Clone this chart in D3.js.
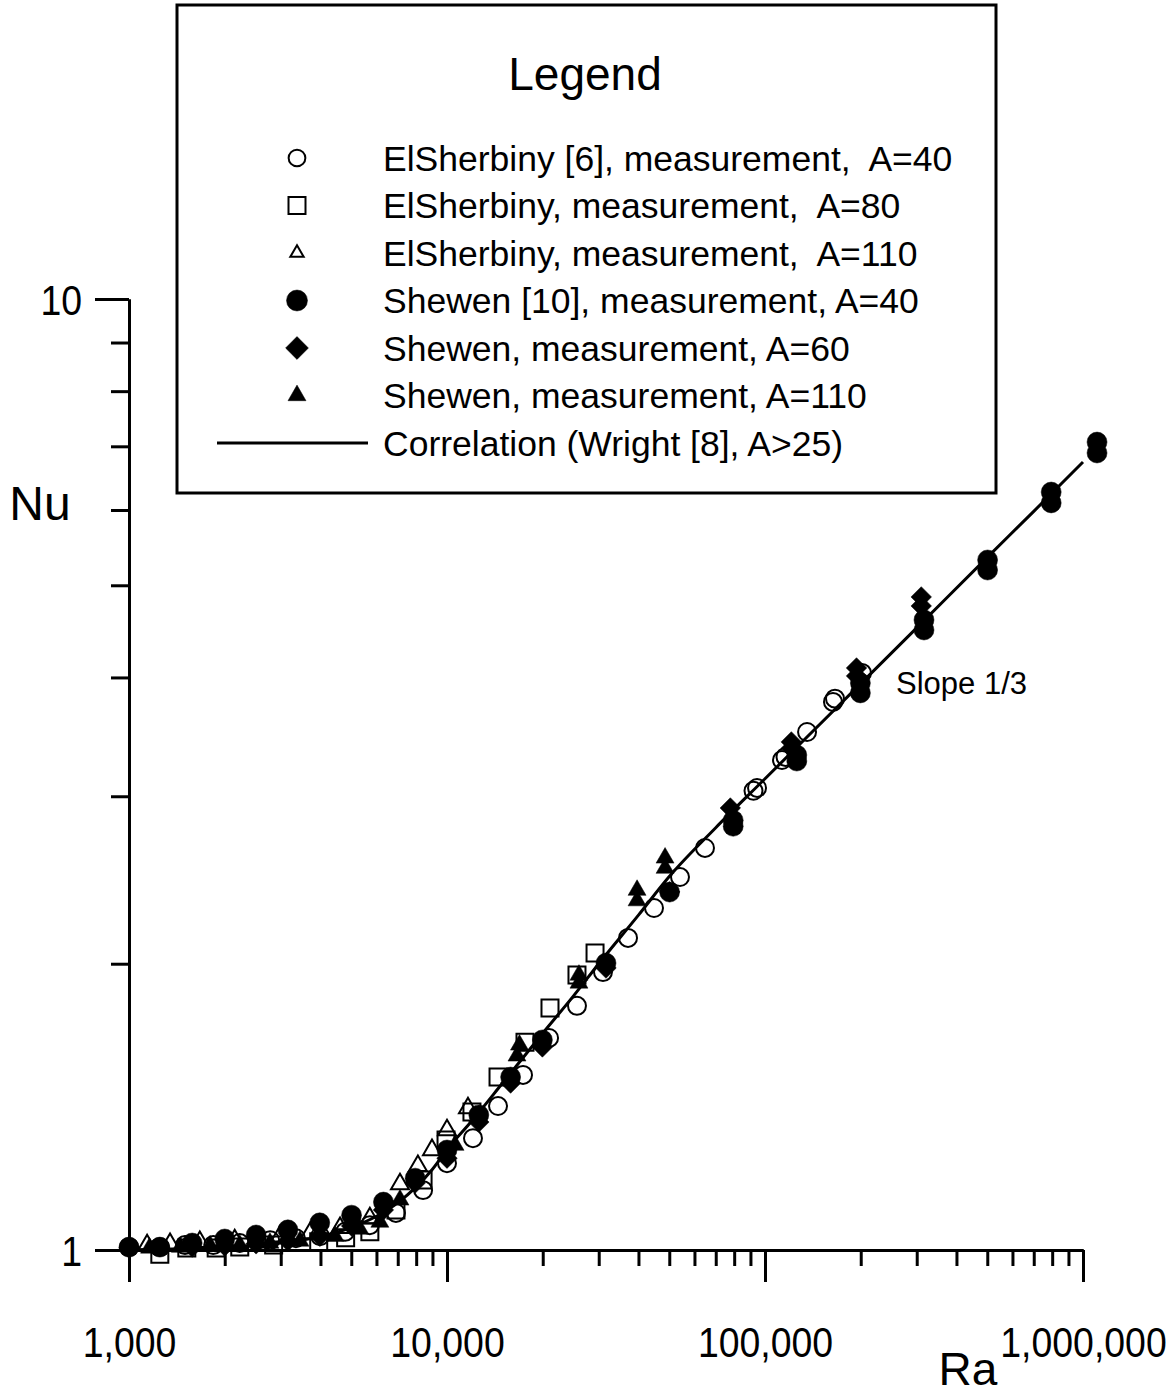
<!DOCTYPE html>
<html><head><meta charset="utf-8">
<script src="https://cdn.jsdelivr.net/npm/d3@7"></script>
<style>
html,body{margin:0;padding:0;background:#fff;}
svg{display:block;font-family:"Liberation Sans",Arial,sans-serif;}
text{white-space:pre;fill:#000;}
</style></head><body>
<svg id="chart" width="1169" height="1397"></svg>
<script>
// ---- tick definitions ----
const xTickValues = [1000, 10000, 100000, 1000000];
const xTickLabels = ["1,000", "10,000", "100,000", "1,000,000"];
const xMinorTicks = [2000,3000,4000,5000,6000,7000,8000,9000,
  20000,30000,40000,50000,60000,70000,80000,90000,
  200000,300000,400000,500000,600000,700000,800000,900000];
const yTickValues = [1, 10];
const yTickLabels = ["1", "10"];
const yMinorTicks = [2,3,4,5,6,7,8,9];

// ---- legend labels ----
const legendTitle = "Legend";
const legendLabels = [
  "ElSherbiny [6], measurement,  A=40",
  "ElSherbiny, measurement,  A=80",
  "ElSherbiny, measurement,  A=110",
  "Shewen [10], measurement, A=40",
  "Shewen, measurement, A=60",
  "Shewen, measurement, A=110",
  "Correlation (Wright [8], A>25)"
];

// ---- data (Ra, Nu) ----
const elSherbiny40Ra = [1000,1250,1500,1840,2230,2780,3350,3990,4780,5720,6910,8410,10000,12070,14470,17340,20940,25630,30940,37090,44770,54040,64760,92000,94400,113100,116000,135600,163600,166000,201800];
const elSherbiny40Nu = [1.007,1.007,1.012,1.012,1.017,1.024,1.029,1.034,1.045,1.062,1.094,1.156,1.234,1.311,1.417,1.528,1.671,1.806,1.960,2.129,2.289,2.467,2.647,3.040,3.061,3.275,3.300,3.505,3.770,3.800,4.044];

const elSherbiny80Ra = [1250,1520,1880,2230,2850,3950,4800,5720,6910,8410,9930,11980,14470,17590,21080,25630,29210];
const elSherbiny80Nu = [0.990,1.005,1.005,1.007,1.012,1.020,1.030,1.045,1.102,1.185,1.305,1.397,1.520,1.654,1.797,1.946,2.053];

const elSherbiny110Ra = [1140,1346,1670,2150,2985,3710,4610,5720,7115,8100,8970,10000,11640];
const elSherbiny110Nu = [1.012,1.015,1.020,1.024,1.034,1.042,1.055,1.080,1.173,1.226,1.274,1.337,1.410];

const shewen40Ra = [1000,1250,1580,2000,2510,3160,3980,5010,6310,7940,10000,12590,15850,19950,31620,50120,79430,79430,125900,125900,199500,199500,316200,316200,501200,501200,794300,794300,1107000,1107000];
const shewen40Nu = [1.007,1.007,1.017,1.027,1.037,1.050,1.068,1.088,1.123,1.190,1.274,1.387,1.520,1.663,2.003,2.379,2.830,2.790,3.315,3.267,3.947,3.853,4.598,4.487,5.316,5.188,6.266,6.104,7.072,6.888];

const shewen60Ra = [1000,1580,2000,2510,3160,3980,5010,6310,7940,10000,12590,15850,19950,31620,50120,77800,121000,121000,194000,194000,310000,310000];
const shewen60Nu = [1.005,1.007,1.010,1.015,1.022,1.034,1.060,1.102,1.176,1.249,1.363,1.498,1.635,1.979,2.380,2.916,3.422,3.370,4.093,4.015,4.861,4.756];

const shewen110Ra = [1160,1450,1800,2230,2775,3450,4440,5320,6150,7115,10600,16600,16900,26000,26000,39600,39600,48500,48500];
const shewen110Nu = [1.005,1.007,1.010,1.012,1.017,1.022,1.034,1.052,1.070,1.129,1.289,1.600,1.643,1.946,1.909,2.390,2.330,2.584,2.521];

// correlation curve
const correlationRa = [1000,2000,3000,4000,5000,6000,7000,8000,9000,10000,12000,15000,20000,25000,30000,40000,50000,70000,100000,200000,300000,500000,700000,1000000];
const correlationNu = [1.000,1.007,1.017,1.033,1.056,1.085,1.121,1.165,1.216,1.275,1.368,1.500,1.690,1.850,2.000,2.250,2.470,2.780,3.130,3.940,4.510,5.350,5.980,6.740];

const slopeLabel = "Slope 1/3";
const xTitle = "Ra";
const yTitle = "Nu";

// ---- drawing ----
const svg = d3.select("#chart");
const x = d3.scaleLog().domain([1000, 1000000]).range([129, 1083]);
const y = d3.scaleLog().domain([1, 10]).range([1250, 299]);

const series = [
  {ra: elSherbiny40Ra, nu: elSherbiny40Nu, shape: "circle", filled: false, size: 254, legendSize: 220},
  {ra: elSherbiny80Ra, nu: elSherbiny80Nu, shape: "square", filled: false, size: 289, legendSize: 289},
  {ra: elSherbiny110Ra, nu: elSherbiny110Nu, shape: "triangle", filled: false, size: 140, legendSize: 78},
  {ra: shewen40Ra, nu: shewen40Nu, shape: "circle", filled: true, size: 314, legendSize: 346},
  {ra: shewen60Ra, nu: shewen60Nu, shape: "diamond", filled: true, size: 210, legendSize: 260},
  {ra: shewen110Ra, nu: shewen110Nu, shape: "triangle", filled: true, size: 140, legendSize: 140}
];
function symType(s){
  if (s === "circle") return d3.symbolCircle;
  if (s === "square" || s === "diamond") return d3.symbolSquare;
  return d3.symbolTriangle;
}
function drawMarker(g, s, cx, cy, size){
  return g.append("path")
    .attr("d", d3.symbol(symType(s.shape), size)())
    .attr("transform", `translate(${cx},${cy})` + (s.shape === "diamond" ? " rotate(45)" : ""))
    .attr("fill", s.filled ? "#000" : "none")
    .attr("stroke", "#000")
    .attr("stroke-width", s.filled ? 0.5 : 2);
}

// axes
const tickScaleX = 0.87;
const axisG = svg.append("g");
const xMajor = axisG.append("g").attr("transform", "translate(0,1250)")
  .call(d3.axisBottom(x).tickValues(xTickValues).tickFormat((d,i)=>xTickLabels[i]).tickSize(32).tickSizeOuter(0));
axisG.append("g").attr("transform", "translate(0,1250)")
  .call(d3.axisBottom(x).tickValues(xMinorTicks).tickFormat("").tickSize(16).tickSizeOuter(0));
const yMajor = axisG.append("g").attr("transform", "translate(129,0)")
  .call(d3.axisLeft(y).tickValues(yTickValues).tickFormat((d,i)=>yTickLabels[i]).tickSize(34).tickSizeOuter(0));
axisG.append("g").attr("transform", "translate(129,0)")
  .call(d3.axisLeft(y).tickValues(yMinorTicks).tickFormat("").tickSize(18).tickSizeOuter(0));
axisG.selectAll("path.domain, .tick line").attr("stroke", "#000").attr("stroke-width", 3);
axisG.selectAll(".tick text").attr("font-family", '"Liberation Sans", Arial, sans-serif').attr("font-size", 43).attr("fill", "#000");
xMajor.selectAll(".tick text").attr("x", 0).attr("y", 0).attr("dy", 0)
  .attr("transform", `translate(0,107) scale(${tickScaleX},1)`);
yMajor.selectAll(".tick text").attr("x", -47 / tickScaleX).attr("dy", "0.36em")
  .attr("transform", `scale(${tickScaleX},1)`);

// correlation line
const lineGen = d3.line().x(d => x(d[0])).y(d => y(d[1])).curve(d3.curveMonotoneX);
svg.append("path")
  .datum(correlationRa.map((r,i)=>[r, correlationNu[i]]))
  .attr("d", lineGen)
  .attr("fill", "none").attr("stroke", "#000").attr("stroke-width", 3);

// markers
const mg = svg.append("g");
series.forEach(s => {
  s.ra.forEach((r,i) => drawMarker(mg, s, x(r), y(s.nu[i]), s.size));
});

// titles
svg.append("text").attr("x", 40).attr("y", 520).attr("text-anchor", "middle").attr("font-size", 48).text(yTitle);
svg.append("text").attr("x", 968).attr("y", 1385).attr("text-anchor", "middle").attr("font-size", 46).text(xTitle);
svg.append("text").attr("x", 896).attr("y", 694).attr("font-size", 31).text(slopeLabel);

// legend
const lg = svg.append("g");
lg.append("rect").attr("x", 177).attr("y", 5).attr("width", 819).attr("height", 488)
  .attr("fill", "#fff").attr("stroke", "#000").attr("stroke-width", 3);
lg.append("text").attr("x", 585).attr("y", 90).attr("text-anchor", "middle").attr("font-size", 46).text(legendTitle);
const rowY = d3.range(legendLabels.length).map(i => 158 + i * 47.5);
legendLabels.forEach((lab, i) => {
  if (i < series.length) {
    drawMarker(lg, series[i], 297, rowY[i], series[i].legendSize);
  } else {
    lg.append("line").attr("x1", 217).attr("x2", 368).attr("y1", rowY[i]).attr("y2", rowY[i])
      .attr("stroke", "#000").attr("stroke-width", 3);
  }
  lg.append("text").attr("x", 383).attr("y", rowY[i] + 12.5).attr("font-size", 35.5).text(lab);
});
</script>
</body></html>
